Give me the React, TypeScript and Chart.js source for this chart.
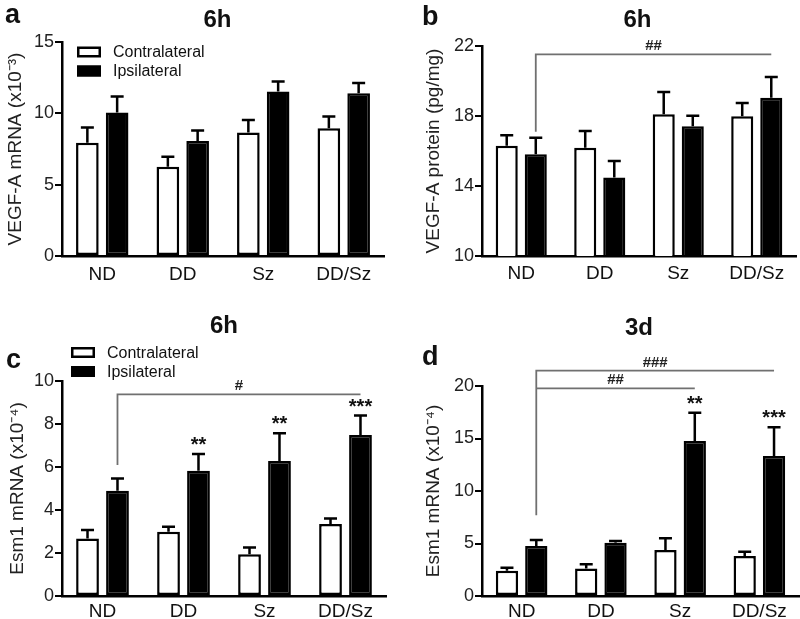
import React, { useEffect, useRef } from 'react';
import { Chart, registerables } from 'chart.js';

Chart.register(...registerables);

const FONT = '"Liberation Sans", Arial, Helvetica, sans-serif';

const categories = ['ND', 'DD', 'Sz', 'DD/Sz'];
const seriesNames = ['Contralateral', 'Ipsilateral'];

// Panel a – VEGF-A mRNA, 6h
const aContra = [7.94, 6.26, 8.65, 8.95];
const aContraSem = [1.06, 0.7, 0.89, 0.82];
const aIpsi = [10.05, 8.06, 11.53, 11.41];
const aIpsiSem = [1.13, 0.73, 0.7, 0.71];
const aTicks = [0, 5, 10, 15];

// Panel b – VEGF-A protein, 6h
const bContra = [16.3, 16.19, 18.1, 17.98];
const bContraSem = [0.6, 0.95, 1.27, 0.76];
const bIpsi = [15.81, 14.48, 17.41, 19.05];
const bIpsiSem = [0.95, 0.95, 0.61, 1.18];
const bTicks = [10, 14, 18, 22];

// Panel c – Esm1 mRNA, 6h
const cContra = [2.68, 2.99, 1.94, 3.35];
const cContraSem = [0.39, 0.23, 0.32, 0.26];
const cIpsi = [4.9, 5.83, 6.28, 7.49];
const cIpsiSem = [0.57, 0.77, 1.29, 0.9];
const cTicks = [0, 2, 4, 6, 8, 10];
const cStars = ['', '**', '**', '***'];

// Panel d – Esm1 mRNA, 3d
const dContra = [2.41, 2.63, 4.38, 3.81];
const dContraSem = [0.29, 0.39, 1.11, 0.41];
const dIpsi = [4.76, 5.08, 14.76, 13.33];
const dIpsiSem = [0.57, 0.16, 2.7, 2.73];
const dTicks = [0, 5, 10, 15, 20];
const dStars = ['', '', '**', '***'];

type Bracket = { from: number; to: number; y: number; drop: number | null; label: string };

const bBrackets: Bracket[] = [{ from: 0, to: 3, y: 21.52, drop: 17.1, label: '##' }];
const cBrackets: Bracket[] = [{ from: 0, to: 3, y: 9.38, drop: 6.09, label: '#' }];
const dBrackets: Bracket[] = [
  { from: 0, to: 3, y: 21.46, drop: 7.7, label: '###' },
  { from: 0, to: 2, y: 19.78, drop: null, label: '##' },
];

type PanelCfg = {
  letter: string;
  title: string;
  yTitle: string;
  contra: number[];
  contraSem: number[];
  ipsi: number[];
  ipsiSem: number[];
  yTicks: number[];
  brackets: Bracket[];
  stars: string[] | null;
  legend: { x: number; y: number } | null;
  box: { x: number; y: number; w: number; h: number };
  area: { left: number; top: number; right: number; bottom: number };
  titlePos: { x: number; base: number };
  letterPos: { x: number; base: number };
  yTitlePad: number;
  xLabelPad: number;
};

const panels: PanelCfg[] = [
  {
    letter: 'a', title: '6h', yTitle: 'VEGF-A mRNA (x10\u207B\u00B3)',
    contra: aContra, contraSem: aContraSem, ipsi: aIpsi, ipsiSem: aIpsiSem, yTicks: aTicks,
    brackets: [], stars: null, legend: { x: 77, y: 52 },
    box: { x: 0, y: 0, w: 400, h: 300 },
    area: { left: 62, top: 42, right: 384, bottom: 256 },
    titlePos: { x: 217.5, base: 27 }, letterPos: { x: 5, base: 23 },
    yTitlePad: 4, xLabelPad: 7,
  },
  {
    letter: 'b', title: '6h', yTitle: 'VEGF-A protein (pg/mg)',
    contra: bContra, contraSem: bContraSem, ipsi: bIpsi, ipsiSem: bIpsiSem, yTicks: bTicks,
    brackets: bBrackets, stars: null, legend: null,
    box: { x: 400, y: 0, w: 400, h: 300 },
    area: { left: 82, top: 46, right: 396, bottom: 256 },
    titlePos: { x: 237.5, base: 27 }, letterPos: { x: 22, base: 25 },
    yTitlePad: 22, xLabelPad: 6,
  },
  {
    letter: 'c', title: '6h', yTitle: 'Esm1 mRNA (x10\u207B\u2074)',
    contra: cContra, contraSem: cContraSem, ipsi: cIpsi, ipsiSem: cIpsiSem, yTicks: cTicks,
    brackets: cBrackets, stars: cStars, legend: { x: 71, y: 52.5 },
    box: { x: 0, y: 300, w: 400, h: 319 },
    area: { left: 62, top: 81, right: 386, bottom: 296 },
    titlePos: { x: 224, base: 33 }, letterPos: { x: 6, base: 68 },
    yTitlePad: 6, xLabelPad: 4,
  },
  {
    letter: 'd', title: '3d', yTitle: 'Esm1 mRNA (x10\u207B\u2074)',
    contra: dContra, contraSem: dContraSem, ipsi: dIpsi, ipsiSem: dIpsiSem, yTicks: dTicks,
    brackets: dBrackets, stars: dStars, legend: null,
    box: { x: 400, y: 300, w: 400, h: 319 },
    area: { left: 82, top: 86, right: 399, bottom: 296 },
    titlePos: { x: 239, base: 35 }, letterPos: { x: 22, base: 65 },
    yTitlePad: 22, xLabelPad: 4,
  },
];

function makePlugin(cfg: PanelCfg) {
  return {
    id: 'panelDecor' + cfg.letter,
    afterDatasetsDraw(chart: any) {
      const ctx: CanvasRenderingContext2D = chart.ctx;
      const yScale = chart.scales.y;
      const sems = [cfg.contraSem, cfg.ipsiSem];
      ctx.save();
      // error bars (upper only)
      ctx.strokeStyle = '#000';
      ctx.lineWidth = 2.5;
      chart.data.datasets.forEach((ds: any, di: number) => {
        const meta = chart.getDatasetMeta(di);
        meta.data.forEach((el: any, i: number) => {
          const v = ds.data[i] as number;
          const top = yScale.getPixelForValue(v + sems[di][i]);
          ctx.beginPath();
          ctx.moveTo(el.x, el.y);
          ctx.lineTo(el.x, top);
          ctx.moveTo(el.x - 6.5, top);
          ctx.lineTo(el.x + 6.5, top);
          ctx.stroke();
        });
      });
      // stars
      if (cfg.stars) {
        const meta = chart.getDatasetMeta(1);
        ctx.fillStyle = '#111';
        ctx.font = `bold 20px ${FONT}`;
        ctx.textAlign = 'center';
        ctx.textBaseline = 'alphabetic';
        cfg.stars.forEach((s, i) => {
          if (!s) return;
          const el = meta.data[i];
          const top = yScale.getPixelForValue(cfg.ipsi[i] + cfg.ipsiSem[i]);
          ctx.fillText(s, el.x, top - 3);
        });
      }
      // significance brackets
      const ipsiMeta = chart.getDatasetMeta(1);
      cfg.brackets.forEach((b) => {
        const x1 = ipsiMeta.data[b.from].x;
        const x2 = ipsiMeta.data[b.to].x;
        const yy = yScale.getPixelForValue(b.y);
        ctx.strokeStyle = '#707070';
        ctx.lineWidth = 1.8;
        ctx.beginPath();
        if (b.drop !== null) {
          ctx.moveTo(x1, yScale.getPixelForValue(b.drop));
          ctx.lineTo(x1, yy);
        } else {
          ctx.moveTo(x1, yy);
        }
        ctx.lineTo(x2, yy);
        ctx.stroke();
        ctx.fillStyle = '#222';
        ctx.font = `bold 15px ${FONT}`;
        ctx.textAlign = 'center';
        ctx.textBaseline = 'alphabetic';
        ctx.fillText(b.label, (x1 + x2) / 2, yy - 4);
      });
      ctx.restore();
    },
    afterDraw(chart: any) {
      const ctx: CanvasRenderingContext2D = chart.ctx;
      ctx.save();
      ctx.fillStyle = '#111';
      ctx.textBaseline = 'alphabetic';
      ctx.font = `bold 24px ${FONT}`;
      ctx.textAlign = 'center';
      ctx.fillText(cfg.title, cfg.titlePos.x, cfg.titlePos.base);
      ctx.font = `bold 27px ${FONT}`;
      ctx.textAlign = 'left';
      ctx.fillText(cfg.letter, cfg.letterPos.x, cfg.letterPos.base);
      if (cfg.legend) {
        const { x, y } = cfg.legend;
        ctx.font = `16px ${FONT}`;
        ctx.textBaseline = 'middle';
        seriesNames.forEach((name, i) => {
          const cy = y + i * 19;
          ctx.fillStyle = i === 0 ? '#fff' : '#000';
          ctx.fillRect(x, cy - 5.5, 24, 11);
          ctx.strokeStyle = '#000';
          ctx.lineWidth = 2.5;
          ctx.strokeRect(x + 1.25, cy - 4.25, 21.5, 8.5);
          ctx.fillStyle = '#111';
          ctx.fillText(name, x + 36, cy + 1);
        });
      }
      ctx.restore();
    },
  };
}

function Panel({ cfg }: { cfg: PanelCfg }) {
  const ref = useRef<HTMLCanvasElement>(null);
  useEffect(() => {
    const { w, h } = cfg.box;
    const area = cfg.area;
    const chart = new Chart(ref.current as HTMLCanvasElement, {
      type: 'bar',
      data: {
        labels: categories,
        datasets: [
          {
            label: seriesNames[0],
            data: cfg.contra,
            backgroundColor: '#ffffff',
            borderColor: '#000000',
            borderWidth: 2.5,
            borderSkipped: false,
            categoryPercentage: 0.74,
            barPercentage: 0.76,
          },
          {
            label: seriesNames[1],
            data: cfg.ipsi,
            backgroundColor: '#000000',
            borderColor: '#000000',
            borderWidth: 2.5,
            borderSkipped: false,
            categoryPercentage: 0.74,
            barPercentage: 0.76,
          },
        ],
      },
      options: {
        responsive: false,
        animation: false,
        events: [],
        layout: { padding: { left: 0, top: area.top, right: w - area.right, bottom: 0 } },
        plugins: { legend: { display: false }, tooltip: { enabled: false }, title: { display: false } },
        scales: {
          x: {
            grid: { display: false, drawTicks: false },
            border: { display: true, color: '#000', width: 2.5 },
            ticks: { color: '#111', font: { family: FONT, size: 19 }, padding: cfg.xLabelPad, maxRotation: 0 },
            afterFit: (s: any) => { s.height = h - area.bottom; },
          },
          y: {
            min: cfg.yTicks[0],
            max: cfg.yTicks[cfg.yTicks.length - 1],
            afterBuildTicks: (s: any) => { s.ticks = cfg.yTicks.map((v) => ({ value: v })); },
            grid: { display: true, drawOnChartArea: false, drawTicks: true, tickLength: 7, color: '#000', lineWidth: 2 },
            border: { display: true, color: '#000', width: 2.5 },
            ticks: { color: '#222', font: { family: FONT, size: 18 }, padding: 1, callback: (v: any) => String(v) },
            title: {
              display: true,
              text: cfg.yTitle,
              color: '#222',
              font: { family: FONT, size: 19 },
              padding: { top: cfg.yTitlePad, bottom: 0 },
            },
            afterFit: (s: any) => { s.width = area.left; },
          },
        },
      } as any,
      plugins: [makePlugin(cfg)],
    });
    return () => chart.destroy();
  }, [cfg]);
  return (
    <canvas
      ref={ref}
      width={cfg.box.w}
      height={cfg.box.h}
      style={{ position: 'absolute', left: cfg.box.x, top: cfg.box.y, width: cfg.box.w, height: cfg.box.h }}
    />
  );
}

export default function App() {
  return (
    <div style={{ position: 'absolute', left: 0, top: 0, width: 800, height: 619, background: '#fff', overflow: 'hidden' }}>
      {panels.map((p) => (
        <Panel key={p.letter} cfg={p} />
      ))}
    </div>
  );
}
